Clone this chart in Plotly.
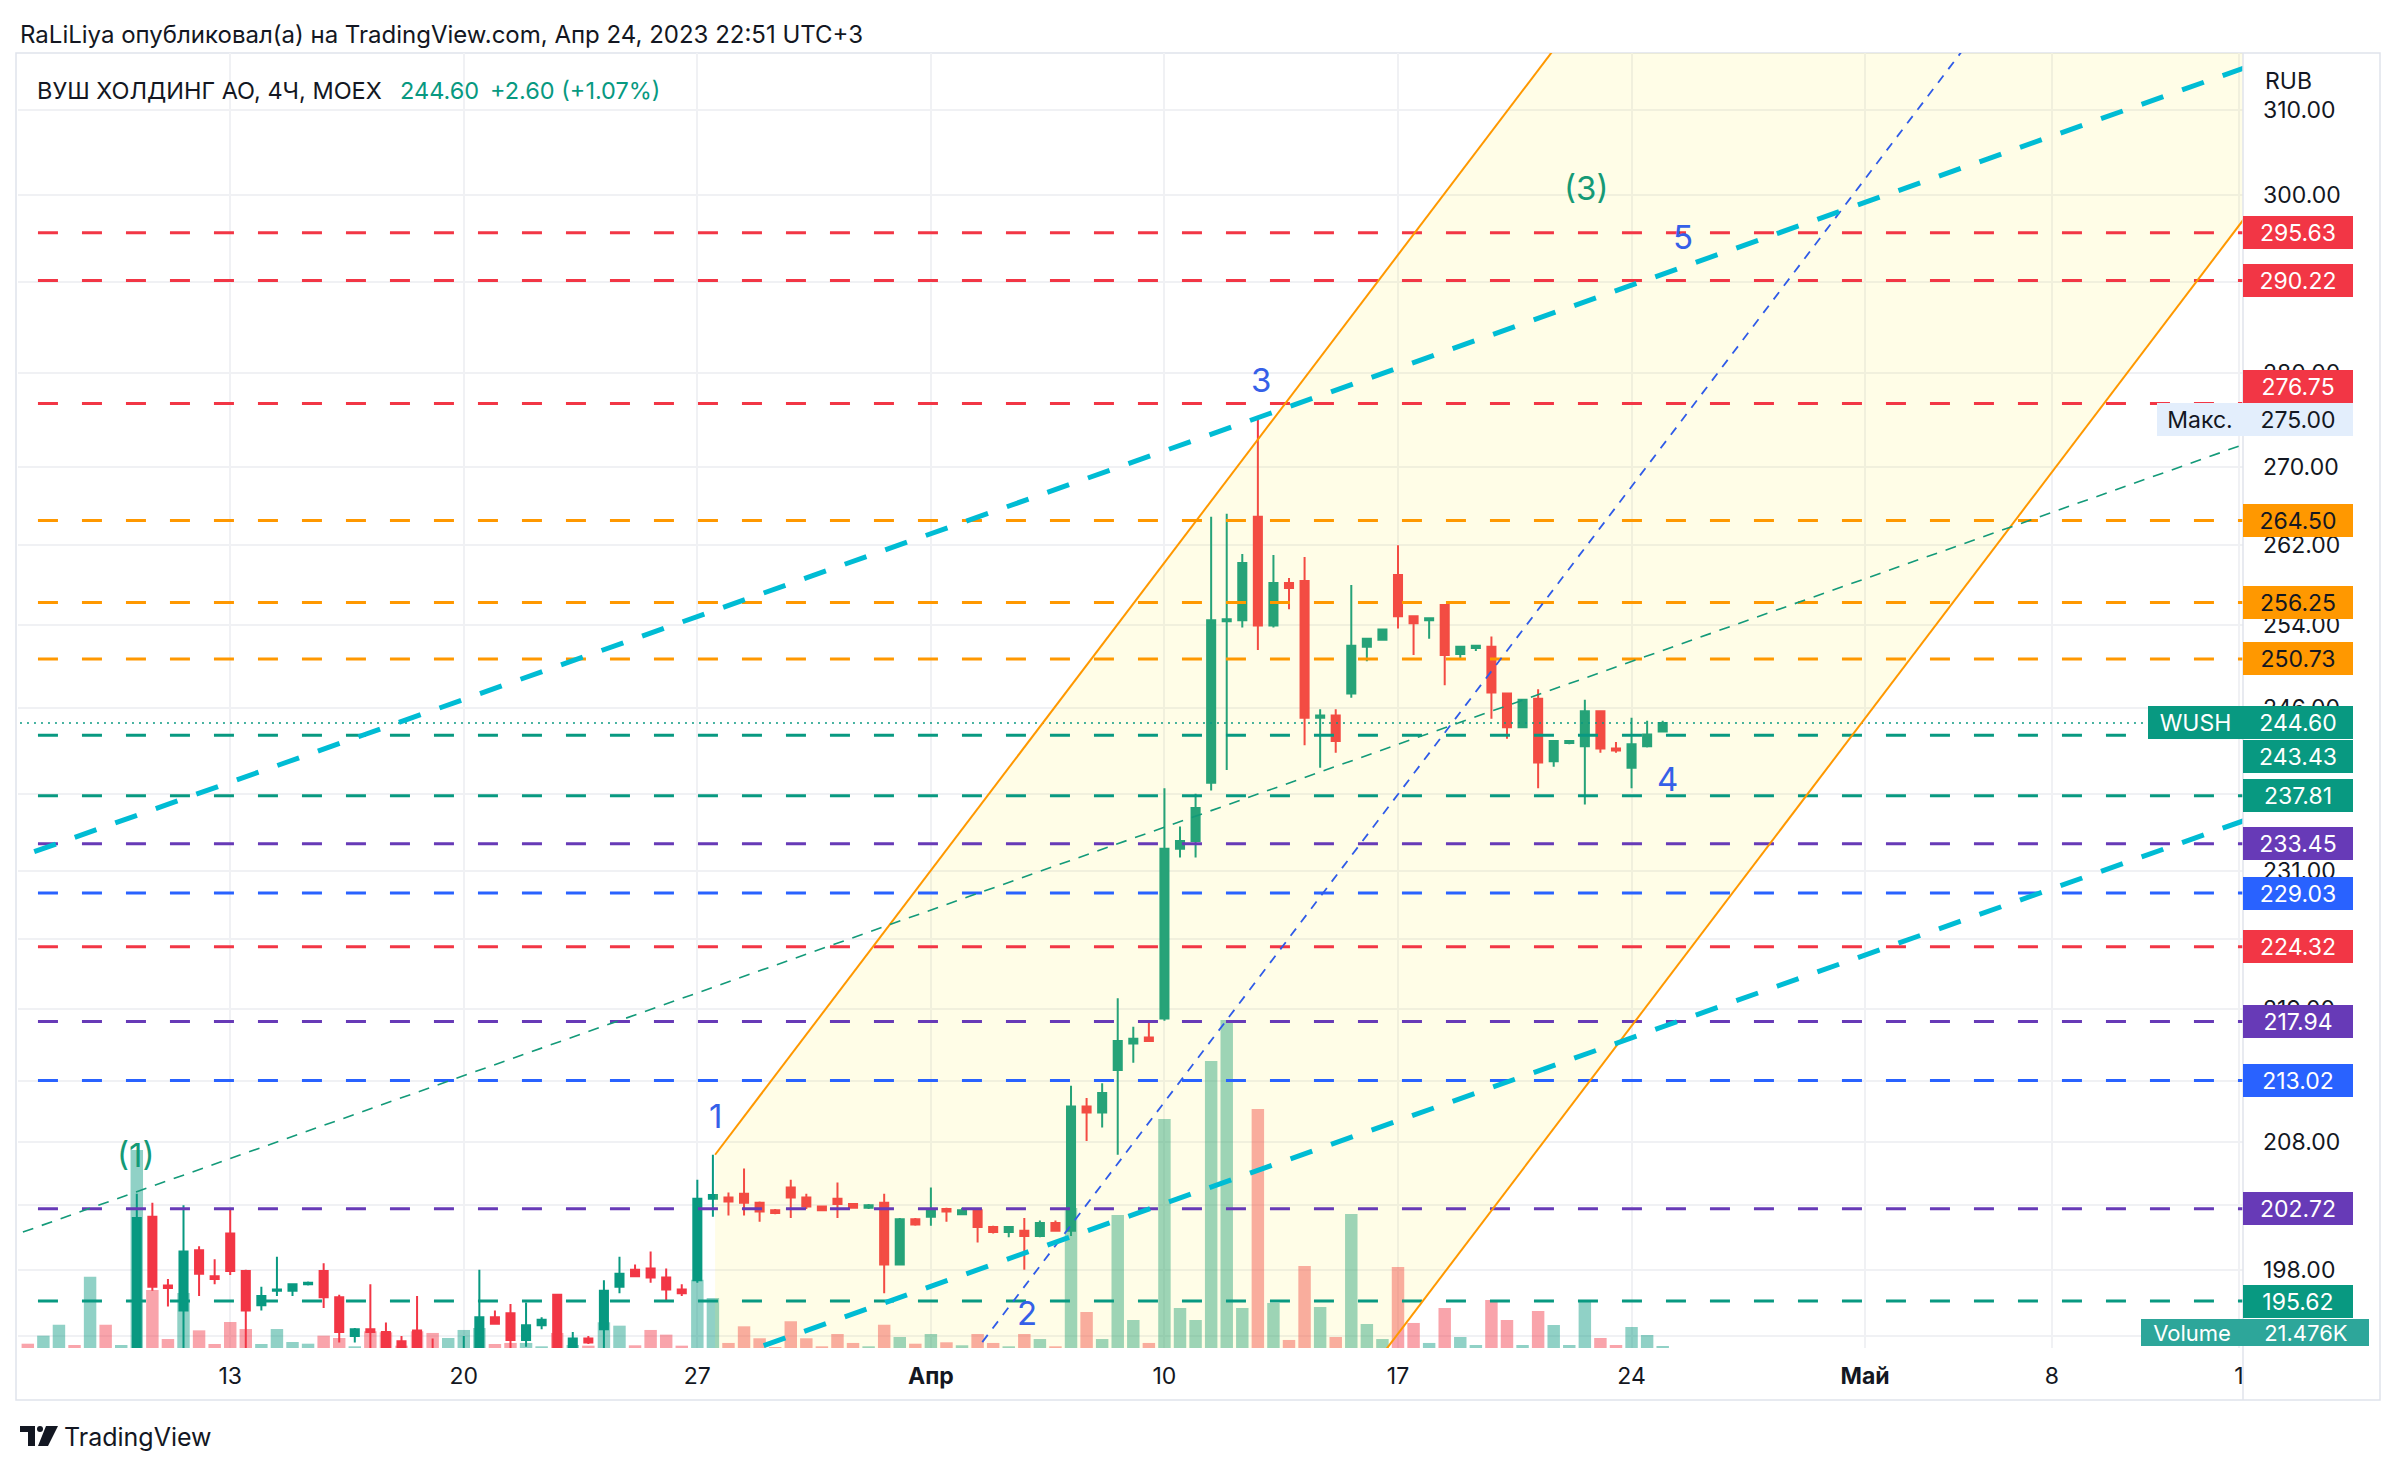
import numpy as np
import plotly.graph_objects as go

# ---------------- data ----------------
bar_index = list(range(106))
opens = [188.4, 188.0, 188.7, 189.8, 189.4, 191.0, 189.9, 190.2, 202.1, 196.8,
         194.9, 199.5, 197.5, 200.8, 197.9, 195.3, 196.4, 196.4, 196.9, 197.9,
         195.9, 193.0, 193.5, 193.3, 192.6, 193.4, 192.0, 191.0, 191.5, 191.8,
         194.4, 194.7, 192.7, 193.8, 196.1, 191.8, 192.8, 193.5, 196.7, 198.0,
         198.1, 197.4, 196.5, 197.2, 203.5, 203.6, 203.9, 203.2, 202.6, 204.4,
         203.6, 202.9, 203.5, 203.1, 202.8, 203.2, 198.4, 201.9, 202.1, 202.7,
         202.3, 202.6, 201.3, 200.9, 201.0, 200.6, 201.6, 201.0, 210.9, 210.4,
         213.9, 216.1, 216.6, 218.2, 233.0, 233.7, 239.0, 254.4, 254.5, 264.9,
         254.0, 258.2, 258.4, 245.1, 245.3, 247.4, 251.9, 252.6, 259.0, 254.9,
         254.5, 256.0, 251.2, 251.8, 251.9, 247.4, 244.2, 246.9, 241.0, 242.7,
         242.4, 245.7, 242.2, 240.4, 242.4, 243.8]
highs = [189.3, 189.0, 190.2, 190.1, 191.6, 191.5, 190.6, 203.9, 203.2, 197.3,
         203.0, 199.8, 198.8, 202.7, 198.0, 196.7, 199.0, 196.9, 197.1, 198.5,
         196.1, 193.6, 196.9, 194.0, 193.0, 196.0, 192.8, 192.0, 193.0, 198.0,
         194.9, 195.4, 195.5, 194.4, 196.1, 193.3, 193.0, 197.2, 199.0, 198.4,
         199.4, 198.1, 196.9, 205.0, 207.0, 204.0, 205.9, 203.3, 202.7, 205.0,
         203.9, 202.9, 204.8, 203.1, 203.1, 203.9, 202.0, 202.0, 204.4, 202.8,
         202.8, 202.6, 201.4, 201.3, 202.0, 201.8, 201.8, 212.6, 211.6, 212.8,
         219.9, 217.5, 218.0, 238.5, 235.0, 238.0, 264.9, 265.2, 261.1, 275.0,
         261.0, 258.7, 260.8, 245.9, 245.9, 258.0, 252.7, 253.6, 262.0, 254.9,
         254.7, 256.0, 251.9, 252.0, 252.9, 247.5, 246.8, 247.8, 242.9, 243.0,
         246.8, 245.8, 242.8, 245.1, 244.8, 244.8]
lows = [187.6, 187.5, 188.3, 189.0, 188.9, 189.6, 189.5, 189.8, 196.4, 195.2,
        191.5, 196.0, 196.9, 197.6, 192.0, 194.9, 196.0, 196.0, 196.8, 195.1,
        192.5, 192.5, 192.0, 191.0, 191.8, 191.5, 190.5, 190.5, 190.8, 191.0,
        193.9, 192.0, 192.2, 193.5, 191.0, 191.5, 192.4, 192.0, 196.2, 197.5,
        197.0, 195.6, 196.0, 197.0, 202.1, 202.2, 202.2, 201.7, 202.3, 202.0,
        202.7, 202.6, 202.0, 202.8, 202.7, 196.2, 198.4, 201.4, 201.4, 201.7,
        202.3, 200.1, 200.8, 200.5, 198.0, 200.5, 201.0, 200.6, 208.1, 209.2,
        207.0, 214.5, 216.3, 218.0, 232.2, 232.2, 238.3, 240.2, 253.8, 251.6,
        253.8, 255.6, 242.5, 240.4, 241.8, 247.0, 250.5, 252.5, 253.7, 251.1,
        252.7, 248.2, 250.7, 251.5, 245.0, 243.1, 244.1, 238.5, 240.5, 242.6,
        237.0, 241.8, 241.8, 238.5, 242.3, 243.7]
closes = [188.0, 188.7, 189.8, 189.4, 191.0, 189.9, 190.2, 202.0, 196.7, 196.6,
          199.4, 197.7, 197.3, 197.9, 194.9, 196.0, 196.5, 196.9, 197.0, 195.9,
          193.3, 193.5, 193.3, 191.5, 192.0, 191.8, 191.0, 191.5, 191.8, 194.4,
          193.9, 192.7, 193.8, 194.2, 191.5, 192.8, 192.5, 196.4, 197.7, 197.5,
          197.4, 196.5, 196.2, 203.5, 203.8, 203.3, 203.2, 202.5, 202.4, 203.6,
          202.9, 202.6, 203.1, 202.8, 203.0, 198.4, 201.9, 201.5, 202.7, 202.5,
          202.6, 201.3, 200.9, 201.3, 200.6, 201.6, 201.0, 210.9, 210.4, 212.0,
          216.3, 216.5, 216.3, 233.0, 233.7, 236.7, 254.5, 254.6, 260.2, 254.0,
          258.2, 257.7, 245.1, 245.3, 242.9, 252.0, 252.7, 253.6, 254.9, 254.2,
          254.7, 251.1, 251.9, 252.0, 247.5, 244.2, 246.8, 240.9, 242.9, 242.9,
          245.7, 242.2, 242.0, 242.6, 243.5, 244.6]
volumes_k = [46, 132, 249, 32, 763, 249, 32, 2119, 621, 96,
             589, 189, 43, 278, 203, 43, 203, 64, 46, 132,
             107, 18, 179, 168, 25, 179, 161, 107, 193, 214,
             43, 54, 54, 18, 161, 32, 25, 275, 239, 29,
             193, 143, 25, 731, 535, 54, 232, 104, 11, 286,
             104, 18, 150, 54, 18, 249, 118, 46, 150, 61,
             29, 150, 54, 18, 150, 96, 18, 1498, 385, 96,
             1423, 300, 54, 2450, 428, 300, 3071, 3510, 428, 2557,
             482, 86, 877, 439, 118, 1434, 257, 96, 867, 268,
             54, 428, 118, 32, 514, 300, 32, 396, 246, 32,
             492, 107, 32, 225, 139, 21.476]

x_tick_index = [13, 28, 43, 58, 73, 88, 103, 118, 130, 142]
x_tick_text = ["13", "20", "27", "<b>Апр</b>", "10", "17", "24", "<b>Май</b>", "8", "1"]

price_ticks = [193, 198, 203, 208, 213, 219, 225, 231, 238, 246, 254, 262, 270, 280, 290, 300, 310]

level_values = [295.63, 290.22, 276.75, 264.50, 256.25, 250.73, 243.43, 237.81,
                233.45, 229.03, 224.32, 217.94, 213.02, 202.72, 195.62]
level_kinds = ["red", "red", "red", "orange", "orange", "orange", "green", "green",
               "purple", "blue", "red", "purple", "blue", "purple", "green"]

last_price = 244.60
max_price = 275.00
last_volume_label = "21.476K"

# drawing anchors (bar index, price), TradingView style 3-point channels
orange_channel = [(44.14, 207.0), (97.76, 316.7), (87.37, 192.2)]
cyan_channel = [(-0.44, 232.3), (142.08, 314.9), (47.08, 192.2)]

wave_text = ["(1)", "1", "2", "3", "4", "5", "(3)"]
wave_x = [6.95, 44.14, 64.2, 79.2, 105.3, 106.3, 100.1]
wave_price = [207.0, 210.1, 194.7, 279.3, 239.4, 295.1, 300.8]

# ---------------- style / geometry ----------------
W, H = 2400, 1472
PL, PR, PT, PB = 18, 2243, 53, 1348
def fx(px):
    return (px - PL) / (PR - PL)
def fy(py):
    return (PB - py) / (PB - PT)

RED = "#F23645"; GREEN = "#089981"; ORANGE = "#FF9800"; PURPLE = "#673AB7"; BLUE = "#2962FF"
KIND_COLOR = {"red": RED, "orange": ORANGE, "green": GREEN, "purple": PURPLE, "blue": BLUE}
KIND_TEXT = {"red": "white", "orange": "#131722", "green": "white", "purple": "white", "blue": "white"}
TXT = "#131722"
GRID = "#F0F1F4"
FONT = "Inter"
label_shift = {276.75: 17, 243.43: -21}

fig = go.Figure()

# volume (base axis, drawn underneath)
vol_colors = ["rgba(8,153,129,0.45)" if c >= o else "rgba(242,54,69,0.45)" for o, c in zip(opens, closes)]
fig.add_trace(go.Bar(x=bar_index, y=volumes_k, marker=dict(color=vol_colors, line=dict(width=0)),
                     width=0.8, yaxis="y", showlegend=False, hoverinfo="skip"))

# candles
fig.add_trace(go.Candlestick(x=bar_index, open=opens, high=highs, low=lows, close=closes, yaxis="y2",
                             increasing=dict(line=dict(color=GREEN, width=2), fillcolor=GREEN),
                             decreasing=dict(line=dict(color=RED, width=2), fillcolor=RED),
                             whiskerwidth=0, showlegend=False, hoverinfo="skip"))

def channel_funcs(pts):
    (x1, p1), (x2, p2), (x3, p3) = pts
    k = (np.log(p2) - np.log(p1)) / (x2 - x1)
    off = np.log(p3) - (np.log(p1) + k * (x3 - x1))
    up = lambda x: float(np.exp(np.log(p1) + k * (x - x1)))
    lo = lambda x: float(np.exp(np.log(p1) + k * (x - x1) + off))
    mid = lambda x: float(np.exp(np.log(p1) + k * (x - x1) + off / 2))
    return up, lo, mid

# orange channel fill (above candles, like TradingView drawings)
oup, olo, omid = channel_funcs(orange_channel)
xs0, xs1 = orange_channel[0][0], 160
fig.add_trace(go.Scatter(x=[xs0, xs1, xs1, xs0, xs0], y=[oup(xs0), oup(xs1), olo(xs1), olo(xs0), oup(xs0)],
                         fill="toself", fillcolor="rgba(255,235,59,0.12)", mode="lines", line=dict(width=0),
                         yaxis="y2", showlegend=False, hoverinfo="skip"))

# horizontal levels
for v, k in zip(level_values, level_kinds):
    fig.add_trace(go.Scatter(x=[-5, 160], y=[v, v], mode="lines", yaxis="y2",
                             line=dict(color=KIND_COLOR[k], width=3, dash="20px,24px"),
                             showlegend=False, hoverinfo="skip"))

# last price dotted line
fig.add_trace(go.Scatter(x=[-5, 160], y=[last_price, last_price], mode="lines", yaxis="y2",
                         line=dict(color=GREEN, width=1.5, dash="2px,5px"), showlegend=False, hoverinfo="skip"))

# orange channel lines + blue midline
fig.add_trace(go.Scatter(x=[xs0, xs1], y=[oup(xs0), oup(xs1)], mode="lines", yaxis="y2",
                         line=dict(color=ORANGE, width=2), showlegend=False, hoverinfo="skip"))
fig.add_trace(go.Scatter(x=[xs0, xs1], y=[olo(xs0), olo(xs1)], mode="lines", yaxis="y2",
                         line=dict(color=ORANGE, width=2), showlegend=False, hoverinfo="skip"))
fig.add_trace(go.Scatter(x=[xs0, xs1], y=[omid(xs0), omid(xs1)], mode="lines", yaxis="y2",
                         line=dict(color="#2F5BE8", width=1.8, dash="9px,8px"), showlegend=False, hoverinfo="skip"))

# cyan channel (extended both sides) + green midline
cup, clo, cmid = channel_funcs(cyan_channel)
cx0, cx1 = -10, 160
fig.add_trace(go.Scatter(x=[cx0, cx1], y=[cup(cx0), cup(cx1)], mode="lines", yaxis="y2",
                         line=dict(color="#00BCD4", width=5, dash="23px,20px"), showlegend=False, hoverinfo="skip"))
fig.add_trace(go.Scatter(x=[cx0, cx1], y=[clo(cx0), clo(cx1)], mode="lines", yaxis="y2",
                         line=dict(color="#00BCD4", width=5, dash="23px,20px"), showlegend=False, hoverinfo="skip"))
fig.add_trace(go.Scatter(x=[cx0, cx1], y=[cmid(cx0), cmid(cx1)], mode="lines", yaxis="y2",
                         line=dict(color="#139A79", width=1.6, dash="11px,9px"), showlegend=False, hoverinfo="skip"))

annotations = []
def add_ann(**kw):
    base = dict(showarrow=False, borderpad=0, borderwidth=0, yanchor="middle")
    base.update(kw)
    annotations.append(base)

# level labels on the price scale
for v, k in zip(level_values, level_kinds):
    add_ann(x=1, xref="paper", xanchor="left", y=np.log10(v), yref="y2",
            yshift=label_shift.get(v, 0), text=f"{v:.2f}", bgcolor=KIND_COLOR[k],
            font=dict(family=FONT, size=23, color=KIND_TEXT[k]), width=110, height=33)

# last price
add_ann(x=1, xref="paper", xanchor="left", y=np.log10(last_price), yref="y2", text=f"{last_price:.2f}",
        bgcolor=GREEN, font=dict(family=FONT, size=23, color="white"), width=110, height=33)
add_ann(x=1, xref="paper", xanchor="right", y=np.log10(last_price), yref="y2", text="WUSH",
        bgcolor=GREEN, font=dict(family=FONT, size=23, color="white"), width=95, height=33)
# max label
add_ann(x=1, xref="paper", xanchor="left", y=np.log10(max_price), yref="y2", text=f"{max_price:.2f}",
        bgcolor="#E3EEFC", font=dict(family=FONT, size=23, color=TXT), width=110, height=33)
add_ann(x=1, xref="paper", xanchor="right", y=np.log10(max_price), yref="y2", text="Макс.",
        bgcolor="#E3EEFC", font=dict(family=FONT, size=23, color=TXT), width=86, height=33)
# volume label
add_ann(x=1, xref="paper", xanchor="right", y=fy(1332), yref="paper", text="Volume",
        bgcolor="#2DA69A", font=dict(family=FONT, size=22, color="white"), width=102, height=27)
add_ann(x=1, xref="paper", xanchor="left", y=fy(1332), yref="paper", text=last_volume_label,
        bgcolor="#2DA69A", font=dict(family=FONT, size=22, color="white"), width=126, height=27)
# currency
add_ann(x=fx(2265), xref="paper", xanchor="left", y=fy(81), yref="paper", text="RUB",
        font=dict(family=FONT, size=23, color=TXT))

# wave labels
for t, x, p in zip(wave_text, wave_x, wave_price):
    col = "#159A76" if t.startswith("(") else "#3560E8"
    add_ann(x=x, xref="x", y=np.log10(p), yref="y2", text=t, xanchor="center",
            font=dict(family=FONT, size=33, color=col))

# header texts
add_ann(x=fx(20), xref="paper", xanchor="left", y=fy(35), yref="paper",
        text="RaLiLiya опубликовал(а) на TradingView.com, Апр 24, 2023 22:51 UTC+3",
        font=dict(family=FONT, size=24, color=TXT))
add_ann(x=fx(37), xref="paper", xanchor="left", y=fy(90), yref="paper",
        text="ВУШ ХОЛДИНГ АО, 4Ч, MOEX", font=dict(family=FONT, size=23.5, color=TXT))
add_ann(x=fx(400), xref="paper", xanchor="left", y=fy(90), yref="paper",
        text="244.60", font=dict(family=FONT, size=23.5, color=GREEN))
add_ann(x=fx(490), xref="paper", xanchor="left", y=fy(90), yref="paper",
        text="+2.60 (+1.07%)", font=dict(family=FONT, size=23.5, color=GREEN))
# logo text
add_ann(x=fx(64), xref="paper", xanchor="left", y=fy(1437), yref="paper",
        text="TradingView", font=dict(family=FONT, size=25, color=TXT))

shapes = []
# frame + price-scale separator
shapes.append(dict(type="rect", xref="paper", yref="paper", x0=fx(16), x1=fx(2380), y0=fy(1400), y1=fy(53),
                   line=dict(color="#E0E3EB", width=1.5), fillcolor="rgba(0,0,0,0)", layer="below"))
shapes.append(dict(type="line", xref="paper", yref="paper", x0=1, x1=1, y0=fy(1400), y1=fy(53),
                   line=dict(color="#E0E3EB", width=1.5)))
# logo glyph
shapes.append(dict(type="rect", xref="paper", yref="paper", x0=fx(20), x1=fx(35), y0=fy(1432), y1=fy(1426),
                   line=dict(width=0), fillcolor=TXT))
shapes.append(dict(type="rect", xref="paper", yref="paper", x0=fx(28), x1=fx(35), y0=fy(1446), y1=fy(1426),
                   line=dict(width=0), fillcolor=TXT))
shapes.append(dict(type="circle", xref="paper", yref="paper", x0=fx(37), x1=fx(43), y0=fy(1432), y1=fy(1426),
                   line=dict(width=0), fillcolor=TXT))
path = "M {} {} L {} {} L {} {} L {} {} Z".format(fx(46), fy(1426), fx(58), fy(1426), fx(48), fy(1446), fx(38), fy(1446))
shapes.append(dict(type="path", xref="paper", yref="paper", path=path, line=dict(width=0), fillcolor=TXT))

vol_top = max(volumes_k) * (PB - PT) / 328.0

fig.update_layout(
    width=W, height=H, autosize=False,
    margin=dict(l=PL, r=W - PR, t=PT, b=H - PB, pad=0),
    paper_bgcolor="white", plot_bgcolor="white",
    showlegend=False,
    xaxis=dict(range=[-0.63, 142.27], tickmode="array", tickvals=x_tick_index, ticktext=x_tick_text,
               showgrid=True, gridcolor=GRID, gridwidth=1.5, zeroline=False, showline=False, ticks="",
               tickfont=dict(family=FONT, size=23, color=TXT), rangeslider=dict(visible=False),
               ticklabelstandoff=12, fixedrange=True),
    yaxis=dict(range=[0, vol_top], visible=False, fixedrange=True),
    yaxis2=dict(type="log", overlaying="y", side="right", range=[np.log10(192.1), np.log10(316.9)],
                tickmode="array", tickvals=price_ticks, ticktext=[f"{v:.2f}" for v in price_ticks],
                showgrid=True, gridcolor=GRID, gridwidth=1.5, zeroline=False, showline=False, ticks="",
                tickfont=dict(family=FONT, size=23, color=TXT), ticklabelstandoff=19, fixedrange=True),
    annotations=annotations,
    shapes=shapes,
    boxgap=0.26,
)

fig.write_html("out.html")
